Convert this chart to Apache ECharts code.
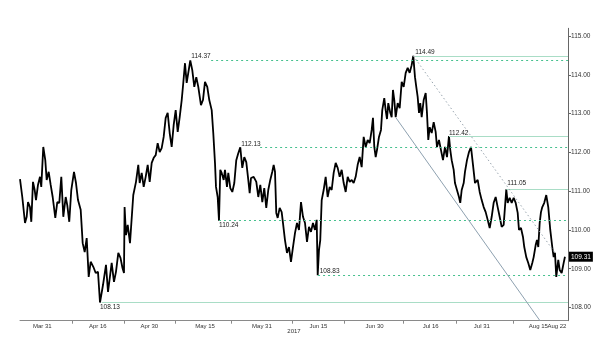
<!DOCTYPE html>
<html>
<head>
<meta charset="utf-8">
<script src="https://cdn.jsdelivr.net/npm/echarts@6/dist/echarts.min.js"></script>
<style>
  html, body { margin: 0; padding: 0; background: #fff; }
  #chart { width: 600px; height: 351px; }
</style>
</head>
<body>
<div id="chart"></div>
<script>
// time in days counted from Mar 31 2017
var days = [
  -6.15,-5.51,-4.75,-4.28,-3.91,-3.36,-2.99,-2.52,-2.04,-1.68,
  -1.12,-0.56,-0.20,0.36,0.92,1.31,1.87,2.43,2.99,3.72,
  4.28,4.84,5.40,5.96,6.63,7.07,7.63,8.19,8.95,9.51,
  10.07,10.82,11.38,11.94,12.50,13.06,13.62,14.35,15.02,15.66,
  16.22,17.06,17.90,18.46,19.49,20.13,20.69,21.34,21.95,22.51,
  22.93,23.10,23.49,23.97,24.61,25.53,26.29,26.93,27.32,27.88,
  28.44,29.00,29.56,30.12,30.68,31.24,31.80,32.35,32.91,33.47,
  34.03,34.59,35.15,35.71,36.27,36.83,37.39,37.95,38.51,39.07,
  39.51,39.99,40.46,40.91,41.47,42.03,42.59,43.15,43.71,44.46,
  45.02,45.58,46.22,46.78,47.46,47.90,48.38,48.66,49.13,49.50,
  49.86,50.25,50.81,51.17,51.73,52.10,52.66,53.22,53.78,54.33,
  54.89,55.45,56.01,56.57,57.13,57.69,58.08,58.45,59.20,59.93,
  60.49,61.05,61.61,62.16,62.72,63.28,63.84,64.40,64.79,65.16,
  65.52,65.91,66.47,67.03,67.39,67.95,68.51,69.07,69.63,70.19,
  70.75,71.31,71.87,72.43,72.99,73.55,74.11,74.66,75.22,75.78,
  76.34,76.82,77.10,77.46,77.82,78.22,78.77,79.33,79.89,80.45,
  81.01,81.57,82.13,82.69,83.25,83.81,84.37,84.93,85.49,86.05,
  86.61,87.16,87.72,88.28,88.84,89.40,89.96,90.52,91.08,91.64,
  92.20,92.56,92.93,93.32,93.68,94.24,94.80,95.16,95.72,96.11,
  96.48,96.84,97.40,97.79,98.15,98.52,98.91,99.47,100.03,100.59,
  101.15,101.71,102.27,102.82,103.38,103.83,104.31,104.67,105.06,105.43,
  105.79,106.18,106.74,107.30,107.66,108.03,108.42,108.98,109.54,110.09,
  110.46,111.02,111.58,112.14,112.70,113.26,113.81,114.18,114.57,115.13,
  115.49,116.05,116.61,116.97,117.37,117.93,118.29,118.85,119.41,119.97,
  120.53,121.09,121.84,122.40,122.96,123.52,124.08,124.64,125.20,125.76,
  126.31,126.87,127.43,127.99,128.55,129.11,129.47,129.84,130.23,130.79,
  131.35,131.91,132.47,133.03,133.39,133.95,134.51,134.87,135.43,135.99,
  136.55,137.11,137.50,138.06,138.42,138.79,139.18,139.54,139.91,140.46,
  141.02,141.58,142.14,142.70,143.09,143.46,143.82,144.38,144.77,145.33,
  145.89,146.25
];
var prices = [
  111.31,110.85,110.18,110.34,110.72,110.59,110.21,111.24,111.03,110.77,
  111.16,111.37,111.11,112.14,111.80,111.29,111.50,111.16,110.85,110.31,
  110.72,110.70,111.37,110.34,110.85,110.64,110.21,111.03,111.50,111.21,
  110.77,110.52,109.66,109.43,109.79,108.79,109.18,109.05,108.89,108.92,
  108.13,108.58,109.10,108.40,109.15,108.66,108.92,109.41,109.28,109.02,
  108.89,110.59,109.87,110.13,109.66,110.90,111.24,111.68,111.21,111.47,
  111.11,111.37,111.68,111.24,111.73,111.86,111.93,112.24,112.01,112.11,
  112.40,112.89,113.02,112.50,112.14,112.71,113.09,112.53,112.91,113.35,
  113.79,114.30,113.79,114.05,114.37,114.12,113.69,113.94,113.69,113.22,
  113.35,113.82,113.69,113.35,113.09,112.50,111.73,111.11,110.85,110.24,
  111.55,111.47,111.29,111.55,111.11,111.47,111.08,110.98,111.21,111.80,
  111.98,112.13,111.60,111.88,111.75,111.29,110.95,111.34,111.37,111.24,
  110.85,111.16,110.72,111.08,110.57,111.03,111.29,111.50,111.68,111.50,
  110.44,110.31,110.57,110.46,110.18,109.74,109.41,109.56,109.18,109.56,
  109.92,110.18,110.00,110.72,110.34,110.18,109.69,110.08,109.95,110.18,
  110.00,110.26,108.83,109.48,109.74,110.77,111.03,111.37,110.85,111.11,
  111.03,111.47,111.73,111.60,111.37,111.55,111.21,110.98,111.37,111.24,
  111.29,111.21,111.37,111.68,111.88,111.62,112.40,112.14,112.32,112.24,
  112.58,112.89,112.14,111.88,112.06,112.40,112.58,113.09,113.40,113.09,
  112.86,113.27,113.02,112.91,113.61,113.35,112.91,113.27,113.14,113.82,
  113.69,114.05,114.18,114.05,114.25,114.49,113.94,113.69,113.43,113.02,
  113.27,112.91,113.35,113.53,113.02,112.32,112.65,112.50,112.78,112.53,
  112.14,112.32,112.06,111.80,112.14,111.88,112.42,112.06,111.80,111.55,
  111.21,111.03,110.85,110.70,111.03,111.21,111.50,111.80,112.01,112.14,
  111.68,111.21,111.29,110.98,110.77,110.59,110.46,110.26,110.05,110.34,
  110.70,110.85,110.59,110.34,110.08,110.13,110.18,111.05,110.70,110.83,
  110.70,110.83,110.70,110.44,110.00,110.05,109.82,109.56,109.30,109.15,
  108.97,109.15,109.30,109.61,109.74,109.56,110.18,110.46,110.59,110.70,
  110.90,110.59,110.00,109.56,109.30,109.41,108.79,109.23,108.97,108.89,
  109.15,109.31
];

var xMin = -6.15, xMax = 147.1;
var yMin = 107.66, yMax = 115.2;

var labelDays = [0.1, 15.6, 30.0, 45.6, 61.5, 77.3, 93.0, 108.7, 123.0, 138.8, 144.0];
var labelText = ["Mar 31", "Apr 16", "Apr 30", "May 15", "May 31", "Jun 15", "Jun 30", "Jul 16", "Jul 31", "Aug 15", "Aug 22"];
var tickDays = [8.58, 23.01, 37.39, 53.05, 70.11, 84.54, 101.03, 115.77, 131.8];
var yTicks = [108, 109, 110, 111, 112, 113, 114, 115];

// support / resistance levels and where they start
var dashedLevels = [114.37, 112.13, 110.24, 108.83];
var dashedFrom = [47.3, 61.0, 49.5, 77.2];
var solidLevels = [108.13, 114.49, 112.42, 111.05];
var solidFrom = [16.7, 104.3, 113.8, 129.9];

// channel lines [day, price]
var channelLow = [[99.0, 112.89], [139.26, 107.66]];
var channelHigh = [[103.83, 114.49], [143.46, 109.41]];

// annotated highs / lows
var noteDays = [41.47, 103.83, 113.81, 55.45, 129.84, 49.5, 77.1, 16.22];
var noteValues = [114.37, 114.49, 112.42, 112.13, 111.05, 110.24, 108.83, 108.13];
var lastPrice = 109.31;

var font = "Liberation Sans";

function dayLabel(v) {
  for (var i = 0; i < labelDays.length; i++) {
    if (Math.abs(labelDays[i] - v) < 0.01) return labelText[i];
  }
  return "";
}

var noteOffsets = [[1, -4], [2, -4], [0, -3], [1, -3], [1, -6], [0, 5], [2, -4], [0, 4.5]];

var myChart = echarts.init(document.getElementById("chart"));

var hLines = [];
dashedLevels.forEach(function(v, i) {
  hLines.push([
    { coord: [dashedFrom[i], v], lineStyle: { color: "#46c08e", type: [2, 3], width: 1 } },
    { coord: [xMax, v] }
  ]);
});
solidLevels.forEach(function(v, i) {
  hLines.push([
    { coord: [solidFrom[i], v], lineStyle: { color: "#a9ddc6", type: "solid", width: 1 } },
    { coord: [xMax, v] }
  ]);
});
hLines.push([
  { coord: channelLow[0], lineStyle: { color: "#8ea1b0", type: "solid", width: 1 } },
  { coord: channelLow[1] }
]);
hLines.push([
  { coord: channelHigh[0], lineStyle: { color: "#9aa6b0", type: [1.5, 2.5], width: 1 } },
  { coord: channelHigh[1] }
]);

var notes = noteDays.map(function(d, i) {
  return {
    coord: [d, noteValues[i]],
    value: noteValues[i].toFixed(2),
    label: { offset: noteOffsets[i] }
  };
});
notes.push({
  coord: [xMax, lastPrice],
  value: lastPrice.toFixed(2),
  label: {
    offset: [1, 0],
    color: "#fff",
    backgroundColor: "#000",
    padding: [2, 2, 1, 2]
  }
});

var labelStyle = {
  formatter: dayLabel,
  fontSize: 6,
  color: "#333",
  fontFamily: font,
  margin: 3,
  hideOverlap: false,
  showMinLabel: true,
  showMaxLabel: true
};

var option = {
  backgroundColor: "#fff",
  animation: false,
  grid: {
    left: 20,
    right: 32,
    top: 28.3,
    bottom: 30.3,
    containLabel: false
  },
  xAxis: [
    {
      type: "value",
      min: xMin,
      max: xMax,
      name: "2017",
      nameLocation: "middle",
      nameGap: 8,
      nameMoveOverlap: false,
      nameTextStyle: { fontSize: 6, color: "#333", fontFamily: font },
      axisLine: { show: true, onZero: false, lineStyle: { color: "#8a8a8a", width: 1 } },
      axisTick: { show: true, customValues: tickDays, length: 3, lineStyle: { color: "#8a8a8a" } },
      axisLabel: Object.assign({ customValues: labelDays.slice(0, -1) }, labelStyle),
      splitLine: { show: false }
    },
    {
      // last label sits close to its neighbour, so it goes on its own axis
      type: "value",
      min: xMin,
      max: xMax,
      position: "bottom",
      axisLine: { show: false, onZero: false },
      axisTick: { show: false },
      axisLabel: Object.assign({ customValues: labelDays.slice(-1) }, labelStyle),
      splitLine: { show: false }
    }
  ],
  yAxis: {
    type: "value",
    position: "right",
    min: yMin,
    max: yMax,
    axisLine: { show: true, onZero: false, lineStyle: { color: "#666", width: 1 } },
    axisTick: { show: true, customValues: yTicks, length: 3, lineStyle: { color: "#666" } },
    axisLabel: {
      customValues: yTicks,
      formatter: function(v) { return v.toFixed(2); },
      fontSize: 6.5,
      color: "#333",
      fontFamily: font,
      margin: 3
    },
    splitLine: { show: false }
  },
  series: [
    {
      name: "levels",
      type: "line",
      data: [],
      silent: true,
      z: 1,
      markLine: {
        silent: true,
        symbol: ["none", "none"],
        label: { show: false },
        animation: false,
        data: hLines
      }
    },
    {
      name: "USDJPY",
      type: "line",
      data: days.map(function(d, i) { return [d, prices[i]]; }),
      showSymbol: false,
      z: 3,
      lineStyle: { color: "#000", width: 1.8 },
      markPoint: {
        symbol: "circle",
        symbolSize: 0,
        silent: true,
        animation: false,
        label: {
          show: true,
          position: "right",
          distance: 0,
          formatter: "{c}",
          fontSize: 6.5,
          color: "#222",
          fontFamily: font
        },
        data: notes
      }
    }
  ]
};
myChart.setOption(option);
</script>
</body>
</html>
